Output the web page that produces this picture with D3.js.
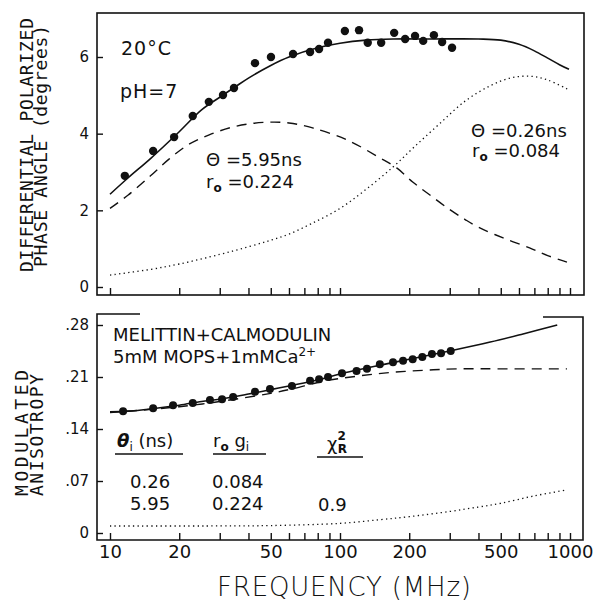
<!DOCTYPE html>
<html>
<head>
<meta charset="utf-8">
<script src="https://cdn.jsdelivr.net/npm/d3@7"></script>
<style>
  body { margin: 0; background: #fff; }
  svg { display: block; }
  text { fill: #111; }
  .note { font-family: "DejaVu Sans", sans-serif; font-size: 18px; }
  .tick text { font-family: "DejaVu Sans", sans-serif; fill: #111; }
  .ylab { font-family: "DejaVu Sans Mono", monospace; font-size: 18px; }
</style>
</head>
<body>
<svg width="595" height="601"></svg>
<script>
// frequency axis
const freqTicks = [10, 20, 30, 40, 50, 60, 70, 80, 90, 100, 200, 300, 400, 500, 600, 700, 800, 900, 1000];
const freqLabels = [10, 20, 50, 100, 200, 500, 1000];
const phaseTicks = [0, 2, 4, 6];
const anisoTicks = [0, 0.07, 0.14, 0.21, 0.28];

// top panel: measured phase angles
const phaseFreq = [11.6, 15.4, 19.0, 22.9, 26.9, 31.0, 34.6, 42.7, 50.1, 62.5, 74.1, 81.1, 88.7, 105, 121, 132, 151, 172, 192, 212, 230, 256, 278, 307];
const phaseVal = [2.90, 3.55, 3.91, 4.46, 4.83, 5.01, 5.19, 5.84, 6.00, 6.08, 6.13, 6.21, 6.37, 6.68, 6.70, 6.37, 6.37, 6.63, 6.47, 6.55, 6.42, 6.57, 6.39, 6.24];

// top panel curves [MHz, degrees]
const phaseFit = [[10, 2.42], [12, 2.85], [15, 3.35], [20, 4.05], [25, 4.62], [30, 4.95], [35, 5.22], [40, 5.45], [50, 5.78], [60, 6.0], [80, 6.24], [100, 6.36], [130, 6.44], [170, 6.47], [250, 6.47], [400, 6.47], [500, 6.44], [600, 6.33], [700, 6.16], [800, 5.97], [900, 5.80], [990, 5.68]];
const phaseSlow = [[10, 2.05], [12, 2.4], [15, 2.9], [18, 3.33], [22, 3.72], [27, 3.97], [34, 4.17], [42, 4.27], [50, 4.30], [60, 4.28], [76, 4.15], [107, 3.84], [149, 3.37], [177, 3.10], [207, 2.74], [246, 2.40], [300, 2.02], [350, 1.76], [400, 1.56], [512, 1.28], [667, 1.02], [800, 0.82], [970, 0.65]];
const phaseFast = [[10, 0.31], [15, 0.46], [20, 0.60], [30, 0.85], [40, 1.05], [50, 1.22], [60, 1.38], [75, 1.65], [100, 2.05], [130, 2.55], [170, 3.13], [210, 3.65], [270, 4.25], [350, 4.85], [450, 5.25], [550, 5.45], [670, 5.50], [800, 5.40], [990, 5.14]];

// bottom panel: measured modulated anisotropy
const anisoFreq = [11.4, 15.4, 18.8, 22.9, 27.2, 30.7, 34.3, 42.7, 49.6, 61.8, 74.1, 81.1, 88.7, 102, 118, 131, 149, 170, 188, 207, 228, 251, 275, 303];
const anisoVal = [0.164, 0.168, 0.172, 0.175, 0.179, 0.180, 0.183, 0.190, 0.194, 0.198, 0.205, 0.207, 0.210, 0.215, 0.218, 0.221, 0.227, 0.230, 0.232, 0.234, 0.237, 0.241, 0.242, 0.245];

const anisoFit = [[10, 0.163], [12, 0.164], [15, 0.167], [20, 0.172], [25, 0.177], [30, 0.180], [40, 0.187], [50, 0.193], [60, 0.198], [80, 0.206], [100, 0.214], [150, 0.226], [200, 0.234], [300, 0.245], [450, 0.257], [625, 0.268], [880, 0.280]];
const anisoSlow = [[10, 0.162], [20, 0.170], [30, 0.177], [50, 0.188], [62, 0.194], [84, 0.204], [118, 0.211], [165, 0.216], [230, 0.219], [323, 0.221], [500, 0.221], [970, 0.221]];
const anisoFast = [[10, 0.0094], [30, 0.0095], [50, 0.010], [100, 0.013], [150, 0.018], [200, 0.022], [300, 0.029], [400, 0.035], [500, 0.040], [700, 0.050], [970, 0.058]];

const svg = d3.select("svg");

const x = d3.scaleLog().domain([10, 1000]).range([110, 570]);
const yTop = d3.scaleLinear().domain([0, 6]).range([287, 57]);
const yBot = d3.scaleLinear().domain([0, 0.28]).range([533, 325]);

// frames
svg.append("rect")
    .attr("x", 97).attr("y", 13).attr("width", 487).attr("height", 282)
    .attr("fill", "none").attr("stroke", "#111").attr("stroke-width", 1.6);

svg.append("path")
    .attr("d", "M140,314 H97 V540 H583 V317 H543")
    .attr("fill", "none").attr("stroke", "#111").attr("stroke-width", 1.6);

// axes
function xAxis(yPos, labels) {
    const g = svg.append("g")
        .attr("transform", `translate(0,${yPos})`)
        .call(d3.axisBottom(x).tickValues(freqTicks).tickSize(-7).tickPadding(5)
            .tickFormat(d => labels && freqLabels.includes(d) ? d : ""));
    g.select(".domain").remove();
    g.selectAll(".tick line").attr("stroke", "#111").attr("stroke-width", 1.4);
    g.selectAll(".tick text").style("font-size", "18px");
}
xAxis(295, false);
xAxis(540, true);

function yAxis(scale, ticks, fmt) {
    const g = svg.append("g")
        .attr("transform", "translate(97,0)")
        .call(d3.axisLeft(scale).tickValues(ticks).tickSize(-6).tickPadding(8).tickFormat(fmt));
    g.select(".domain").remove();
    g.selectAll(".tick line").attr("stroke", "#111").attr("stroke-width", 1.4);
    g.selectAll(".tick text").style("font-size", "15px");
}
yAxis(yTop, phaseTicks, d3.format("d"));
yAxis(yBot, anisoTicks, d => d === 0 ? "0" : d3.format(".2f")(d).replace(/^0/, ""));

// curves
function curve(data, yScale, dash, width) {
    svg.append("path")
        .datum(data)
        .attr("fill", "none")
        .attr("stroke", "#111")
        .attr("stroke-width", width)
        .attr("stroke-dasharray", dash)
        .attr("d", d3.line().curve(d3.curveCatmullRom)
            .x(d => x(d[0])).y(d => yScale(d[1])));
}
curve(phaseFit, yTop, null, 1.6);
curve(phaseSlow, yTop, "10,7", 1.4);
curve(phaseFast, yTop, "1.3,3.3", 1.3);
curve(anisoFit, yBot, null, 1.6);
curve(anisoSlow, yBot, "10,7", 1.4);
curve(anisoFast, yBot, "1.3,3.3", 1.3);

// points
svg.append("g").selectAll("circle")
    .data(d3.zip(phaseFreq, phaseVal))
    .join("circle")
    .attr("cx", d => x(d[0])).attr("cy", d => yTop(d[1])).attr("r", 4.2)
    .attr("fill", "#111");

svg.append("g").selectAll("circle")
    .data(d3.zip(anisoFreq, anisoVal))
    .join("circle")
    .attr("cx", d => x(d[0])).attr("cy", d => yBot(d[1])).attr("r", 4)
    .attr("fill", "#111");

// axis titles
function vlabel(txt, xPos, yMid, len) {
    svg.append("text").attr("class", "ylab")
        .attr("transform", `translate(${xPos},${yMid}) rotate(-90)`)
        .attr("text-anchor", "middle")
        .attr("textLength", len).attr("lengthAdjust", "spacing")
        .text(txt);
}
vlabel("DIFFERENTIAL POLARIZED", 33, 145, 254);
vlabel("PHASE ANGLE (degrees)", 47, 146, 242);
vlabel("MODULATED", 28, 433, 126);
vlabel("ANISOTROPY", 43, 435, 122);

svg.append("text")
    .attr("x", 217).attr("y", 596)
    .attr("textLength", 254).attr("lengthAdjust", "spacing")
    .style("font-family", "DejaVu Sans, sans-serif").style("font-size", "26px").style("font-weight", 200)
    .text("FREQUENCY  (MHz)");

// annotations
function note(xPos, yPos) {
    return svg.append("text").attr("class", "note").attr("x", xPos).attr("y", yPos);
}
note(121, 55).style("font-size", "19px").style("letter-spacing", "1px").text("20°C");
note(120, 98).style("font-size", "19px").style("letter-spacing", "1px").text("pH=7");

function rNote(xPos, yPos, val) {
    const t = note(xPos, yPos);
    t.append("tspan").text("r");
    t.append("tspan").attr("dy", 4).style("font-size", "12px").style("font-weight", "bold").text("o");
    t.append("tspan").attr("dy", -4).text(" =" + val);
}
note(206, 166).text("Θ =5.95ns");
rNote(206, 188, "0.224");
note(471, 137).text("Θ  =0.26ns");
rNote(472, 157, "0.084");

note(113, 341).text("MELITTIN+CALMODULIN");
const buf = note(113, 363);
buf.append("tspan").text("5mM  MOPS+1mMCa");
buf.append("tspan").attr("dy", -7).style("font-size", "12px").text("2+");

// fit table
const h1 = note(117, 447);
h1.append("tspan").style("font-weight", "bold").style("font-style", "italic").text("θ");
h1.append("tspan").attr("dy", 4).style("font-size", "12px").text("i");
h1.append("tspan").attr("dy", -4).text(" (ns)");

const h2 = note(213, 447);
h2.append("tspan").text("r");
h2.append("tspan").attr("dy", 4).style("font-size", "12px").style("font-weight", "bold").text("o");
h2.append("tspan").attr("dy", -4).text(" g");
h2.append("tspan").attr("dy", 4).style("font-size", "12px").text("i");

const h3 = note(327, 450);
h3.append("tspan").text("χ");
h3.append("tspan").attr("dy", -10).style("font-size", "12px").style("font-weight", "bold").text("2");
h3.append("tspan").attr("dx", -8).attr("dy", 13).style("font-size", "12px").style("font-weight", "bold").text("R");

[[115, 183, 454], [213, 266, 454], [317, 363, 457]].forEach(u => {
    svg.append("line")
        .attr("x1", u[0]).attr("x2", u[1]).attr("y1", u[2]).attr("y2", u[2])
        .attr("stroke", "#111").attr("stroke-width", 1.4);
});

note(130, 488).text("0.26");
note(130, 510).text("5.95");
note(212, 488).text("0.084");
note(212, 510).text("0.224");
note(318, 511).text("0.9");
</script>
</body>
</html>
